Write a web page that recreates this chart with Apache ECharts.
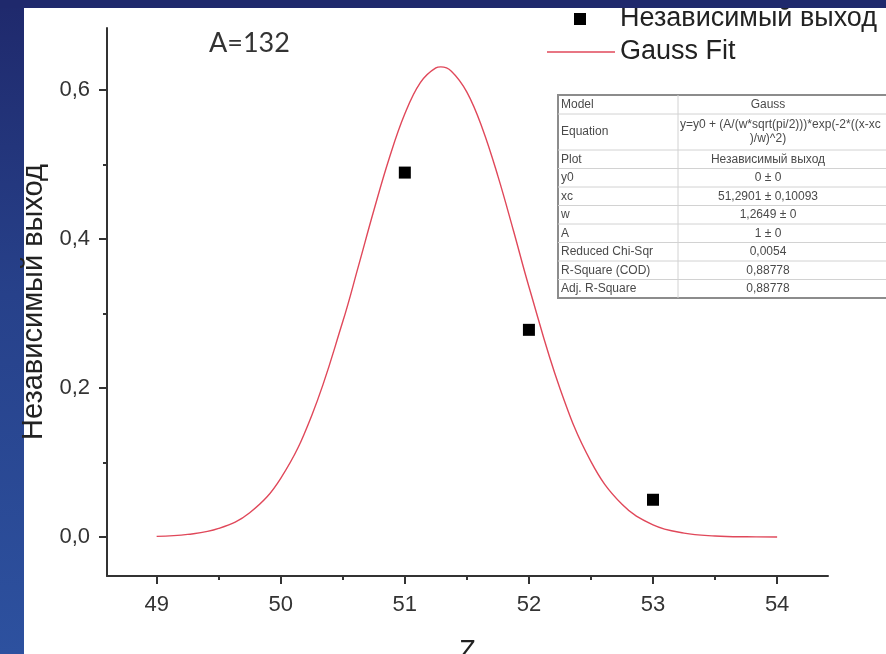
<!DOCTYPE html>
<html>
<head>
<meta charset="utf-8">
<script src="https://cdn.jsdelivr.net/npm/echarts@6/dist/echarts.min.js"></script>
<style>
  html, body { margin: 0; padding: 0; width: 886px; height: 654px; overflow: hidden; }
  body { position: relative; background: linear-gradient(180deg, #1f296c 0%, #27418a 45%, #2d519f 100%); }
  #panel { position: absolute; left: 24px; top: 8px; right: 0; bottom: 0; background: #ffffff; }
  #chart { position: absolute; left: 0; top: 0; width: 886px; height: 654px; }
  #band { position: absolute; left: 0; top: 0; width: 886px; height: 8px; background: #1f296c; z-index: 5; }
</style>
</head>
<body>
<div id="panel"></div>
<div id="chart"></div>
<div id="band"></div>
<script>
// Measured independent yield for mass chain A=132
const zValues = [51, 52, 53];
const yieldValues = [0.489, 0.278, 0.05];

// Gauss fit curve sampled along Z
const fitZ = [49, 49.25, 49.5, 49.75, 50, 50.25, 50.5, 50.625, 50.75, 50.875, 51, 51.125, 51.25, 51.29,
              51.375, 51.5, 51.625, 51.75, 51.875, 52, 52.25, 52.5, 52.75, 53, 53.25, 53.5, 53.75, 54];
const fitY = [0.0009, 0.0035, 0.0115, 0.0325, 0.0788, 0.1632, 0.2891, 0.3628, 0.4381, 0.5086, 0.5678, 0.6097, 0.6295, 0.6308,
              0.6251, 0.5970, 0.5483, 0.4843, 0.4113, 0.3359, 0.1994, 0.1012, 0.0439, 0.0163, 0.0052, 0.0014, 0.0003, 0.0001];

// Axis ticks
const xTicks = [49, 50, 51, 52, 53, 54];
const xMinorTicks = [49.5, 50.5, 51.5, 52.5, 53.5];
const yTicks = [0, 0.2, 0.4, 0.6];
const yMinorTicks = [0.1, 0.3, 0.5];

// Fit parameter table
const tableLabels = ['Model', 'Equation', 'Plot', 'y0', 'xc', 'w', 'A', 'Reduced Chi-Sqr', 'R-Square (COD)', 'Adj. R-Square'];
const tableValues = ['Gauss', 'y=y0 + (A/(w*sqrt(pi/2)))*exp(-2*((x-xc', 'Независимый выход', '0 ± 0', '51,2901 ± 0,10093',
                     '1,2649 ± 0', '1 ± 0', '0,0054', '0,88778', '0,88778'];
const equationTail = ')/w)^2)';

const seriesName = 'Независимый выход';
const fitName = 'Gauss Fit';

const fitData = fitZ.map((z, i) => [z, fitY[i]]);
const pointData = zValues.map((z, i) => [z, yieldValues[i]]);

// table geometry
const tblLeft = 558, tblTop = 95, tblDiv = 678, tblRight = 900, tblCenter = 768;
const rowHeights = [19, 36, 18.5, 18.5, 18.5, 18.5, 18.5, 18.5, 18.5, 18.5];
const tblFont = '12px "Liberation Sans", Arial, sans-serif';
const tblColor = '#4a4a4a';

const graphics = [];
const tblHeight = rowHeights.reduce((a, b) => a + b, 0);
graphics.push({ type: 'rect', z: 10, shape: { x: tblLeft, y: tblTop, width: tblRight - tblLeft, height: tblHeight },
  style: { fill: '#ffffff', stroke: '#8c8c8c', lineWidth: 2 } });
graphics.push({ type: 'line', z: 11, shape: { x1: tblDiv, y1: tblTop, x2: tblDiv, y2: tblTop + tblHeight },
  style: { stroke: '#d2d2d2', lineWidth: 1 } });
let yCursor = tblTop;
rowHeights.forEach((h, i) => {
  if (i > 0) {
    graphics.push({ type: 'line', z: 11, shape: { x1: tblLeft, y1: yCursor, x2: tblRight, y2: yCursor },
      style: { stroke: '#d2d2d2', lineWidth: 1 } });
  }
  const mid = yCursor + h / 2;
  graphics.push({ type: 'text', z: 12, x: tblLeft + 3, y: mid,
    style: { text: tableLabels[i], font: tblFont, fill: tblColor, textAlign: 'left', textVerticalAlign: 'middle' } });
  if (i === 1) {
    graphics.push({ type: 'text', z: 12, x: tblDiv + 2, y: mid - 7,
      style: { text: tableValues[i], font: tblFont, fill: tblColor, textAlign: 'left', textVerticalAlign: 'middle' } });
    graphics.push({ type: 'text', z: 12, x: tblCenter, y: mid + 7,
      style: { text: equationTail, font: tblFont, fill: tblColor, textAlign: 'center', textVerticalAlign: 'middle' } });
  } else {
    graphics.push({ type: 'text', z: 12, x: tblCenter, y: mid,
      style: { text: tableValues[i], font: tblFont, fill: tblColor, textAlign: 'center', textVerticalAlign: 'middle' } });
  }
  yCursor += h;
});

// mass number annotation
graphics.push({ type: 'text', z: 12, x: 209, y: 43,
  style: { text: 'A=132', font: '27px Lato, "Open Sans", sans-serif', fill: '#333333', textAlign: 'left', textVerticalAlign: 'middle' } });

const axisFont = { fontFamily: '"Liberation Sans", Arial, sans-serif', fontSize: 22, color: '#333333' };
const axisLineStyle = { color: '#333333', width: 2 };
const xMin = 48.6, xMax = 54.41, yMin = -0.0523, yMax = 0.683;
const legendText = { fontFamily: '"Liberation Sans", Arial, sans-serif', fontSize: 27, color: '#222222' };

const chart = echarts.init(document.getElementById('chart'), null, { renderer: 'canvas' });
chart.setOption({
  animation: false,
  backgroundColor: 'transparent',
  grid: { left: 107, right: 58, top: 28, bottom: 78, containLabel: false, outerBoundsMode: 'none' },
  legend: [
    { data: [{ name: seriesName, icon: 'path://M0,0M68,12M27,0h12v12h-12z' }],
      left: 547, top: 5.5, padding: 0, itemWidth: 68, itemHeight: 12, textStyle: legendText,
      itemStyle: { color: '#000000', opacity: 1 } },
    { data: [{ name: fitName, icon: 'path://M0,0M68,12M0,5.3h68v1.4h-68z' }],
      left: 547, top: 38.5, padding: 0, itemWidth: 68, itemHeight: 12, textStyle: legendText,
      itemStyle: { color: '#e0485a' }, lineStyle: { width: 0 } }
  ],
  xAxis: [
    { type: 'value', position: 'bottom', min: xMin, max: xMax,
      name: 'Z', nameLocation: 'middle', nameGap: 62,
      nameTextStyle: { fontFamily: '"Liberation Sans", Arial, sans-serif', fontSize: 27, color: '#222222' },
      axisLine: { show: true, onZero: false, lineStyle: axisLineStyle },
      axisTick: { show: true, inside: false, length: 8, lineStyle: axisLineStyle, customValues: xTicks },
      axisLabel: Object.assign({ margin: 18, customValues: xTicks, formatter: v => String(v) }, axisFont),
      splitLine: { show: false } },
    { type: 'value', position: 'bottom', min: xMin, max: xMax,
      axisLine: { show: false, onZero: false },
      axisTick: { show: true, inside: false, length: 4, lineStyle: axisLineStyle, customValues: xMinorTicks },
      axisLabel: { show: false },
      splitLine: { show: false } }
  ],
  yAxis: [
    { type: 'value', position: 'left', min: yMin, max: yMax,
      name: 'Независимый выход', nameLocation: 'middle', nameGap: 57,
      nameTextStyle: { fontFamily: '"Liberation Sans", Arial, sans-serif', fontSize: 29, color: '#222222' },
      axisLine: { show: true, onZero: false, lineStyle: axisLineStyle },
      axisTick: { show: true, inside: false, length: 8, lineStyle: axisLineStyle, customValues: yTicks },
      axisLabel: Object.assign({ margin: 17, customValues: yTicks, formatter: v => v.toFixed(1).replace('.', ',') }, axisFont),
      splitLine: { show: false } },
    { type: 'value', position: 'left', min: yMin, max: yMax,
      axisLine: { show: false, onZero: false },
      axisTick: { show: true, inside: false, length: 4, lineStyle: axisLineStyle, customValues: yMinorTicks },
      axisLabel: { show: false },
      splitLine: { show: false } }
  ],
  series: [
    { name: fitName, type: 'line', data: fitData, smooth: 0.4, symbol: 'none', z: 3,
      lineStyle: { color: '#e0485a', width: 1.4 }, itemStyle: { color: '#e0485a' } },
    { name: seriesName, type: 'scatter', data: pointData, symbol: 'rect', symbolSize: 12, z: 4,
      itemStyle: { color: '#000000', opacity: 1 } }
  ],
  graphic: graphics
});
</script>
</body>
</html>
